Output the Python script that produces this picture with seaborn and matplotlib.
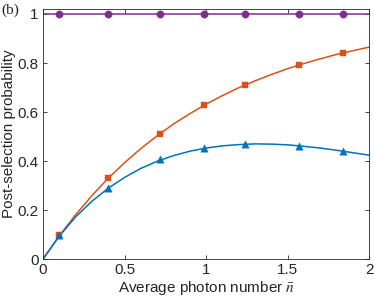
import matplotlib
matplotlib.use("Agg")
import matplotlib.pyplot as plt
import seaborn as sns
import pandas as pd

# curve samples
curve_n = [0.0, 0.1, 0.2, 0.3, 0.4, 0.5, 0.6, 0.7, 0.8, 0.9, 1.0,
           1.1, 1.2, 1.3, 1.4, 1.5, 1.6, 1.7, 1.8, 1.9, 2.0]
curve_purple = [1.0] * 21
curve_orange = [0.0, 0.095, 0.181, 0.259, 0.330, 0.393, 0.451, 0.503, 0.551, 0.593, 0.632,
                0.667, 0.699, 0.727, 0.753, 0.777, 0.798, 0.817, 0.835, 0.850, 0.865]
curve_blue = [0.0, 0.094, 0.172, 0.236, 0.289, 0.333, 0.370, 0.399, 0.422, 0.440, 0.453,
              0.462, 0.467, 0.470, 0.469, 0.466, 0.460, 0.453, 0.444, 0.434, 0.424]

# marker samples
mark_n = [0.10, 0.40, 0.72, 0.99, 1.24, 1.57, 1.84]
mark_purple = [1.0, 1.0, 1.0, 1.0, 1.0, 1.0, 1.0]
mark_orange = [0.10, 0.33, 0.51, 0.63, 0.71, 0.79, 0.84]
mark_blue = [0.10, 0.29, 0.41, 0.455, 0.47, 0.46, 0.44]

xticks = [0, 0.5, 1, 1.5, 2]
xtick_labels = ["0", "0.5", "1", "1.5", "2"]
yticks = [0, 0.2, 0.4, 0.6, 0.8, 1]
ytick_labels = ["0", "0.2", "0.4", "0.6", "0.8", "1"]

c_blue = "#0072BD"
c_orange = "#D95319"
c_purple = "#7E2F8E"

sns.set_style("ticks")
plt.rcParams["font.family"] = ["Liberation Sans", "DejaVu Sans"]
plt.rcParams["mathtext.fontset"] = "stix"

fig = plt.figure(figsize=(3.74, 3.03), dpi=100)
ax = fig.add_axes([0.115, 0.145, 0.872, 0.825])

curves = pd.DataFrame({"n": curve_n, "purple": curve_purple,
                       "orange": curve_orange, "blue": curve_blue})
marks = pd.DataFrame({"n": mark_n, "purple": mark_purple,
                      "orange": mark_orange, "blue": mark_blue})

for col, c, m, ms in [("purple", c_purple, "o", 28),
                      ("orange", c_orange, "s", 20),
                      ("blue", c_blue, "^", 28)]:
    sns.lineplot(data=curves, x="n", y=col, color=c, linewidth=1.1, ax=ax)
    sns.scatterplot(data=marks, x="n", y=col, color=c, marker=m, s=ms,
                    edgecolor=c, linewidth=0.3, ax=ax, zorder=3)

ax.set_xlim(0, 2)
ax.set_ylim(0, 1.02)
ax.set_xticks(xticks)
ax.set_xticklabels(xtick_labels)
ax.set_yticks(yticks)
ax.set_yticklabels(ytick_labels)
ax.tick_params(direction="in", top=True, right=True, length=3, width=0.6,
               labelsize=11, colors="#262626", pad=3)
for s in ax.spines.values():
    s.set_linewidth(0.6)
    s.set_color("#262626")
    s.set_visible(True)
ax.set_xlabel(r"Average photon number $\bar{n}$", fontsize=11, color="#262626", labelpad=1)
ax.set_ylabel("Post-selection probability", fontsize=11, color="#262626", labelpad=1)

fig.text(0.005, 0.99, "(b)", fontsize=11, family="Liberation Serif", va="top", ha="left")

fig.savefig("out.png", dpi=100)
